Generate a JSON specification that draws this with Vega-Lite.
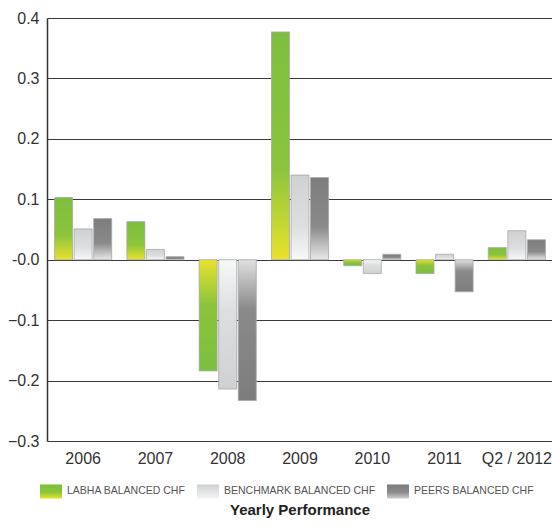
{
  "$schema": "https://vega.github.io/schema/vega-lite/v6.json",
  "autosize": "none",
  "width": 506,
  "height": 423,
  "padding": {"left": 47, "top": 18, "right": 0, "bottom": 86},
  "background": "white",
  "config": {"font": "Liberation Sans", "view": {"stroke": null}},
  "title": {"text": "Yearly Performance", "orient": "bottom", "anchor": "middle", "fontSize": 15, "font": "Liberation Sans", "fontWeight": "bold", "color": "#222", "offset": 4},
  "data": {"values": [
    {"year": "2006", "series": "LABHA BALANCED CHF", "v": 0.103},
    {"year": "2006", "series": "BENCHMARK BALANCED CHF", "v": 0.051},
    {"year": "2006", "series": "PEERS BALANCED CHF", "v": 0.068},
    {"year": "2007", "series": "LABHA BALANCED CHF", "v": 0.063},
    {"year": "2007", "series": "BENCHMARK BALANCED CHF", "v": 0.017},
    {"year": "2007", "series": "PEERS BALANCED CHF", "v": 0.005},
    {"year": "2008", "series": "LABHA BALANCED CHF", "v": -0.184},
    {"year": "2008", "series": "BENCHMARK BALANCED CHF", "v": -0.214},
    {"year": "2008", "series": "PEERS BALANCED CHF", "v": -0.233},
    {"year": "2009", "series": "LABHA BALANCED CHF", "v": 0.377},
    {"year": "2009", "series": "BENCHMARK BALANCED CHF", "v": 0.140},
    {"year": "2009", "series": "PEERS BALANCED CHF", "v": 0.136},
    {"year": "2010", "series": "LABHA BALANCED CHF", "v": -0.010},
    {"year": "2010", "series": "BENCHMARK BALANCED CHF", "v": -0.023},
    {"year": "2010", "series": "PEERS BALANCED CHF", "v": 0.009},
    {"year": "2011", "series": "LABHA BALANCED CHF", "v": -0.023},
    {"year": "2011", "series": "BENCHMARK BALANCED CHF", "v": 0.009},
    {"year": "2011", "series": "PEERS BALANCED CHF", "v": -0.053},
    {"year": "Q2 / 2012", "series": "LABHA BALANCED CHF", "v": 0.020},
    {"year": "Q2 / 2012", "series": "BENCHMARK BALANCED CHF", "v": 0.048},
    {"year": "Q2 / 2012", "series": "PEERS BALANCED CHF", "v": 0.033}
  ]},
  "encoding": {
    "x": {"field": "year", "type": "nominal", "sort": null,
      "scale": {"paddingInner": 0.21, "paddingOuter": 0.105},
      "axis": {"title": null, "domain": false, "ticks": false, "labelAngle": 0, "labelFontSize": 16, "labelColor": "#333", "labelPadding": 9}},
    "xOffset": {"field": "series", "type": "nominal", "sort": ["LABHA BALANCED CHF", "BENCHMARK BALANCED CHF", "PEERS BALANCED CHF"], "scale": {"paddingInner": 0.08}},
    "y": {"field": "v", "type": "quantitative",
      "scale": {"domain": [-0.3, 0.4], "nice": false, "zero": true},
      "axis": {"title": null, "values": [-0.3, -0.2, -0.1, 0, 0.1, 0.2, 0.3, 0.4], "labelExpr": "datum.value == 0 ? '-0.0' : format(datum.value, '.1f')", "labelFontSize": 16, "labelColor": "#333", "labelPadding": 8, "ticks": false, "domain": true, "domainColor": "#333", "domainWidth": 1.5, "grid": true, "gridColor": "#3a3a3a", "gridWidth": 1.2, "gridOpacity": 1}}
  },
  "layer": [
    {
      "mark": {"type": "bar", "stroke": "#a8a8a8", "strokeWidth": 0.8},
      "encoding": {
        "fill": {
          "condition": [
            {"test": "datum.series === 'LABHA BALANCED CHF' && datum.v >= 0", "value": {"gradient": "linear", "x1": 0, "y1": 0, "x2": 0, "y2": 1, "stops": [{"offset": 0, "color": "#7cbf3e"}, {"offset": 0.6, "color": "#8cc43c"}, {"offset": 1, "color": "#e9e22c"}]}},
            {"test": "datum.series === 'LABHA BALANCED CHF'", "value": {"gradient": "linear", "x1": 0, "y1": 0, "x2": 0, "y2": 1, "stops": [{"offset": 0, "color": "#e9e22c"}, {"offset": 0.4, "color": "#8cc43c"}, {"offset": 1, "color": "#7cbf3e"}]}},
            {"test": "datum.series === 'BENCHMARK BALANCED CHF' && datum.v >= 0", "value": {"gradient": "linear", "x1": 0, "y1": 0, "x2": 0, "y2": 1, "stops": [{"offset": 0, "color": "#cfd1d3"}, {"offset": 0.6, "color": "#dcdee0"}, {"offset": 1, "color": "#f7f8f8"}]}},
            {"test": "datum.series === 'BENCHMARK BALANCED CHF'", "value": {"gradient": "linear", "x1": 0, "y1": 0, "x2": 0, "y2": 1, "stops": [{"offset": 0, "color": "#f7f8f8"}, {"offset": 0.4, "color": "#dcdee0"}, {"offset": 1, "color": "#cfd1d3"}]}},
            {"test": "datum.v >= 0", "value": {"gradient": "linear", "x1": 0, "y1": 0, "x2": 0, "y2": 1, "stops": [{"offset": 0, "color": "#7d7d7d"}, {"offset": 0.6, "color": "#8a8a8a"}, {"offset": 1, "color": "#e8e8e8"}]}}
          ],
          "value": {"gradient": "linear", "x1": 0, "y1": 0, "x2": 0, "y2": 1, "stops": [{"offset": 0, "color": "#e0e0e0"}, {"offset": 0.35, "color": "#8a8a8a"}, {"offset": 1, "color": "#7d7d7d"}]}
        }
      }
    },
    {
      "mark": {"type": "bar", "opacity": 0},
      "encoding": {
        "color": {"field": "series", "type": "nominal", "sort": ["LABHA BALANCED CHF", "BENCHMARK BALANCED CHF", "PEERS BALANCED CHF"],
          "scale": {"range": [
            {"expr": "{gradient: 'linear', x1: 0, y1: 0, x2: 0, y2: 1, stops: [{offset: 0, color: '#7cbf3e'}, {offset: 0.55, color: '#8cc43c'}, {offset: 1, color: '#e9e22c'}]}"},
            {"expr": "{gradient: 'linear', x1: 0, y1: 0, x2: 0, y2: 1, stops: [{offset: 0, color: '#cfd1d3'}, {offset: 1, color: '#f4f5f6'}]}"},
            {"expr": "{gradient: 'linear', x1: 0, y1: 0, x2: 0, y2: 1, stops: [{offset: 0, color: '#7d7d7d'}, {offset: 0.55, color: '#8a8a8a'}, {offset: 1, color: '#cfcfcf'}]}"}
          ]},
          "legend": {"orient": "none", "legendX": -7, "legendY": 462, "direction": "horizontal", "title": null,
            "symbolType": "M-1,-0.64L1,-0.64L1,0.64L-1,0.64Z", "symbolSize": 484, "symbolStrokeWidth": 0, "symbolOpacity": 1,
            "labelFontSize": 10.5, "labelColor": "#555", "labelOffset": 5, "columnPadding": 11}
        }
      }
    }
  ]
}
